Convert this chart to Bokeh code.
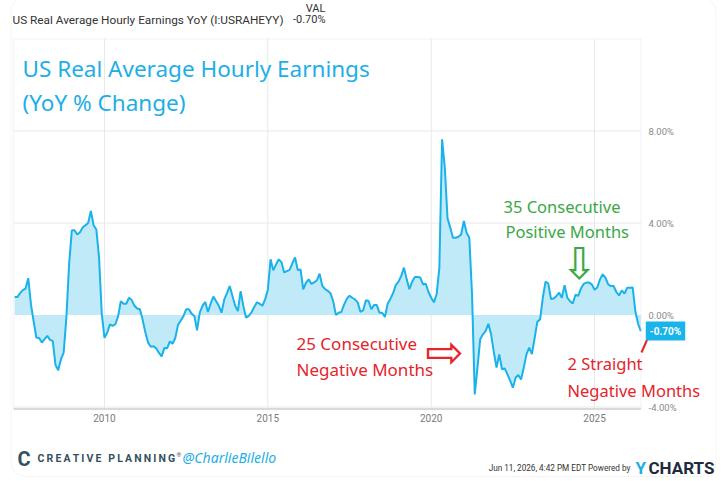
from bokeh.plotting import figure
from bokeh.models import Label, Arrow, BoxAnnotation, FixedTicker, PrintfTickFormatter, Range1d
from bokeh.embed import file_html
from bokeh.resources import INLINE

# ---- data: US Real Average Hourly Earnings YoY (%), monthly, Mar 2007 - May 2026
start_year, start_month = 2007, 3
v2007 = [0.78, 0.78, 0.95, 1.08, 1.15, 1.6, 0.45, -0.3, -0.99, -1.0]
v2008 = [-1.2, -1.05, -0.91, -1.08, -1.13, -2.17, -2.4, -1.93, -1.64, -0.12, 2.2, 3.68]
v2009 = [3.68, 3.5, 3.6, 3.8, 3.9, 4.0, 4.52, 3.9, 3.72, 2.5, 0.05, -0.99]
v2010 = [-0.77, -0.41, -0.47, -0.4, -0.06, 0.6, 0.49, 0.49, 0.75, 0.65, 0.4, 0.28]
v2011 = [0.25, -0.2, -0.75, -1.2, -1.38, -1.36, -1.45, -1.65, -1.8, -1.43, -1.45, -1.15]
v2012 = [-1.25, -1.0, -0.43, -0.25, -0.05, 0.25, 0.25, 0.06, -0.04, -0.67, 0.1, 0.4]
v2013 = [0.57, 0.13, 0.5, 0.8, 0.6, 0.4, 0.1, 0.68, 0.95, 1.26, 0.83, 0.4]
v2014 = [0.17, 1.04, 0.39, -0.12, -0.04, 0.12, 0.35, 0.55, 0.49, 0.4, 0.68, 1.1]
v2015 = [2.42, 1.94, 2.2, 2.42, 2.3, 1.85, 1.91, 1.96, 2.25, 2.5, 1.95, 1.98]
v2016 = [1.12, 1.4, 1.55, 1.35, 1.42, 1.5, 1.8, 1.27, 1.13, 1.05, 0.95, 0.6]
v2017 = [0.0, 0.1, 0.13, 0.45, 0.7, 0.84, 0.75, 0.68, 0.55, 0.14, 0.2, 0.64]
v2018 = [0.61, 0.25, 0.43, 0.43, 0.1, 0.1, -0.09, 0.49, 0.7, 0.95, 1.3, 1.45]
v2019 = [1.7, 2.06, 1.55, 1.12, 1.45, 1.65, 1.65, 1.63, 1.33, 1.36, 1.0, 0.75]
v2020 = [0.55, 0.9, 2.06, 7.64, 6.4, 4.2, 3.8, 3.36, 3.36, 3.4, 3.5, 4.09]
v2021 = [3.58, 3.36, 0.9, -3.45, -2.29, -1.05, -0.84, -0.7, -0.38, -0.84, -1.6, -2.29]
v2022 = [-1.71, -2.36, -2.32, -2.58, -2.85, -3.16, -2.73, -2.61, -2.8, -2.29, -1.71, -1.42]
v2023 = [-1.7, -1.0, -0.29, -0.19, 0.75, 1.45, 1.37, 0.7, 0.72, 0.83, 0.97, 0.75]
v2024 = [1.29, 0.75, 0.6, 0.5, 0.88, 0.83, 1.15, 1.35, 1.41, 1.41, 1.33, 1.1]
v2025 = [1.2, 1.55, 1.77, 1.62, 1.33, 1.26, 1.26, 1.0, 0.85, 1.07, 0.93, 1.19]
v2026 = [1.19, 1.2, 0.15, -0.38, -0.70]

year_ticks = [2010, 2015, 2020, 2025]
y_ticks = [-4, 0, 4, 8]
h_grid = [-4, 4, 8]
last_value_label = "-0.70%"

values = (v2007 + v2008 + v2009 + v2010 + v2011 + v2012 + v2013 + v2014 + v2015 +
          v2016 + v2017 + v2018 + v2019 + v2020 + v2021 + v2022 + v2023 + v2024 +
          v2025 + v2026)
# month-end dates as decimal years
dates = []
y, m = start_year, start_month
for _ in values:
    dates.append(y + m / 12.0)
    m += 1
    if m > 12:
        m = 1
        y += 1

# chart box (data units) and full card extents
CX0, CX1 = 2007.22, 2026.42
CY0, CY1 = -4.087, 12.0
FX0, FX1 = 2007.123, 2028.733
FY0, FY1 = -7.065, 13.674

LINE = "#19b2ea"
FILL = "#c0eaf8"
CYAN_TXT = "#1eaee6"
GREEN = "#3aa845"
RED = "#e5242b"
GRID = "#e8e8e8"

p = figure(width=726, height=481, x_range=Range1d(FX0, FX1),
           y_range=Range1d(FY0, FY1), y_axis_location="right",
           toolbar_location=None, output_backend="svg",
           min_border_left=10, min_border_right=10, min_border_top=0,
           min_border_bottom=4)
p.background_fill_color = "white"
p.border_fill_color = "white"
p.outline_line_color = None
p.xgrid.visible = False
p.ygrid.visible = False

# x axis (labels pulled up under the chart box)
p.xaxis.ticker = FixedTicker(ticks=year_ticks)
p.xaxis.axis_line_color = None
p.xaxis.major_tick_line_color = None
p.xaxis.minor_tick_line_color = None
p.xaxis.major_tick_out = 0
p.xaxis.major_label_text_color = "#7a7a7a"
p.xaxis.major_label_text_font = "Roboto"
p.xaxis.major_label_text_font_size = "10px"
p.xaxis.major_label_standoff = -64

# y axis (labels pulled left next to the chart box)
p.yaxis.ticker = FixedTicker(ticks=y_ticks)
p.yaxis.formatter = PrintfTickFormatter(format="%.2f%%")
p.yaxis.axis_line_color = None
p.yaxis.major_tick_line_color = None
p.yaxis.minor_tick_line_color = None
p.yaxis.major_tick_out = 0
p.yaxis.major_label_text_color = "#8a8a8a"
p.yaxis.major_label_text_font = "Roboto"
p.yaxis.major_label_text_font_size = "9.5px"
p.yaxis.major_label_standoff = -68

# card border
p.add_layout(BoxAnnotation(left=0.5, right=705.5, top=480, bottom=1,
                           left_units="screen", right_units="screen",
                           top_units="screen", bottom_units="screen",
                           fill_alpha=0, line_color="#d6d6d6", line_width=1,
                           border_radius=14))

# grid lines inside the chart box
p.segment(x0=year_ticks, x1=year_ticks, y0=CY0, y1=CY1, line_color=GRID, line_width=1)
p.segment(x0=CX0, x1=CX1, y0=h_grid, y1=h_grid, line_color=GRID, line_width=1)

p.varea(x=dates, y1=0, y2=values, fill_color=FILL)
p.line(x=dates, y=values, line_color=LINE, line_width=2)

# chart box frame
p.add_layout(BoxAnnotation(left=CX0, right=CX1, bottom=CY0, top=CY1,
                           fill_alpha=0, line_color="#d8d8d8", line_width=1))
p.segment(x0=[CX0], x1=[CX1], y0=[CY0], y1=[CY0], line_color="#cfcfcf", line_width=1.5)


def lab(x, y, text, size, color, font="Noto Sans", style="normal", align="left",
        baseline="middle", **kw):
    p.add_layout(Label(x=x, y=y, x_units="screen", y_units="screen", text=text,
                       text_font=font, text_font_size=size, text_color=color,
                       text_font_style=style, text_align=align,
                       text_baseline=baseline, **kw))


# header
lab(2, 458, "US Real Average Hourly Earnings YoY (I:USRAHEYY)", "11.8px", "#333333", font="Roboto")
lab(305, 469, "VAL", "11px", "#333333", font="Roboto", align="center")
lab(315, 458, last_value_label, "11px", "#333333", font="Roboto", align="right")

# title inside chart
lab(12, 409, "US Real Average Hourly Earnings", "22.5px", CYAN_TXT)
lab(12, 375, "(YoY % Change)", "22.5px", CYAN_TXT)

# annotations
lab(493, 271, "35 Consecutive", "16.5px", GREEN)
lab(495, 246, "Positive Months", "16.5px", GREEN)
lab(569, 214, "\u21e9", "44px", GREEN, font="DejaVu Sans", align="center")
lab(286, 134, "25 Consecutive", "17px", RED)
lab(286, 108, "Negative Months", "17px", RED)
lab(434, 126, "\u21e8", "46px", RED, font="DejaVu Sans", align="center")
lab(557, 114, "2 Straight", "16.5px", RED)
lab(557, 87, "Negative Months", "16.5px", RED)
p.add_layout(Arrow(end=None, x_start=638, y_start=141, x_end=631, y_end=125,
                   start_units="screen", end_units="screen",
                   line_color=RED, line_width=2))

# last value badge
p.add_layout(Label(x=655, y=values[-1], x_units="screen", y_units="data",
                   text=last_value_label, text_font="Roboto", text_font_size="10px",
                   text_font_style="bold", text_color="white", text_align="center",
                   text_baseline="middle", background_fill_color="#18b4ea",
                   padding=4))

# footer
brand = "\u2009".join("CREATIVE PLANNING").replace("\u2009 \u2009", "\u2009\u2009 ")
lab(7, 19, "C", "20px", "#34505f", font="Roboto", style="bold")
lab(27, 19, brand, "10.5px", "#34505f", font="Roboto", style="bold")
lab(166, 23, "\u00ae", "6px", "#34505f", font="Roboto")
lab(172, 20, "@CharlieBilello", "14px", CYAN_TXT, style="italic")
lab(620, 10, "Jun 11, 2026, 4:42 PM EDT Powered by", "8.2px", "#333333", font="Roboto", align="right")
lab(625, 10, "Y", "17px", "#1eaee6", font="Roboto", style="bold")
lab(638, 10, "CHARTS", "17px", "#1e2b3c", font="Roboto", style="bold")

open("out.html", "w").write(file_html(p, INLINE))
